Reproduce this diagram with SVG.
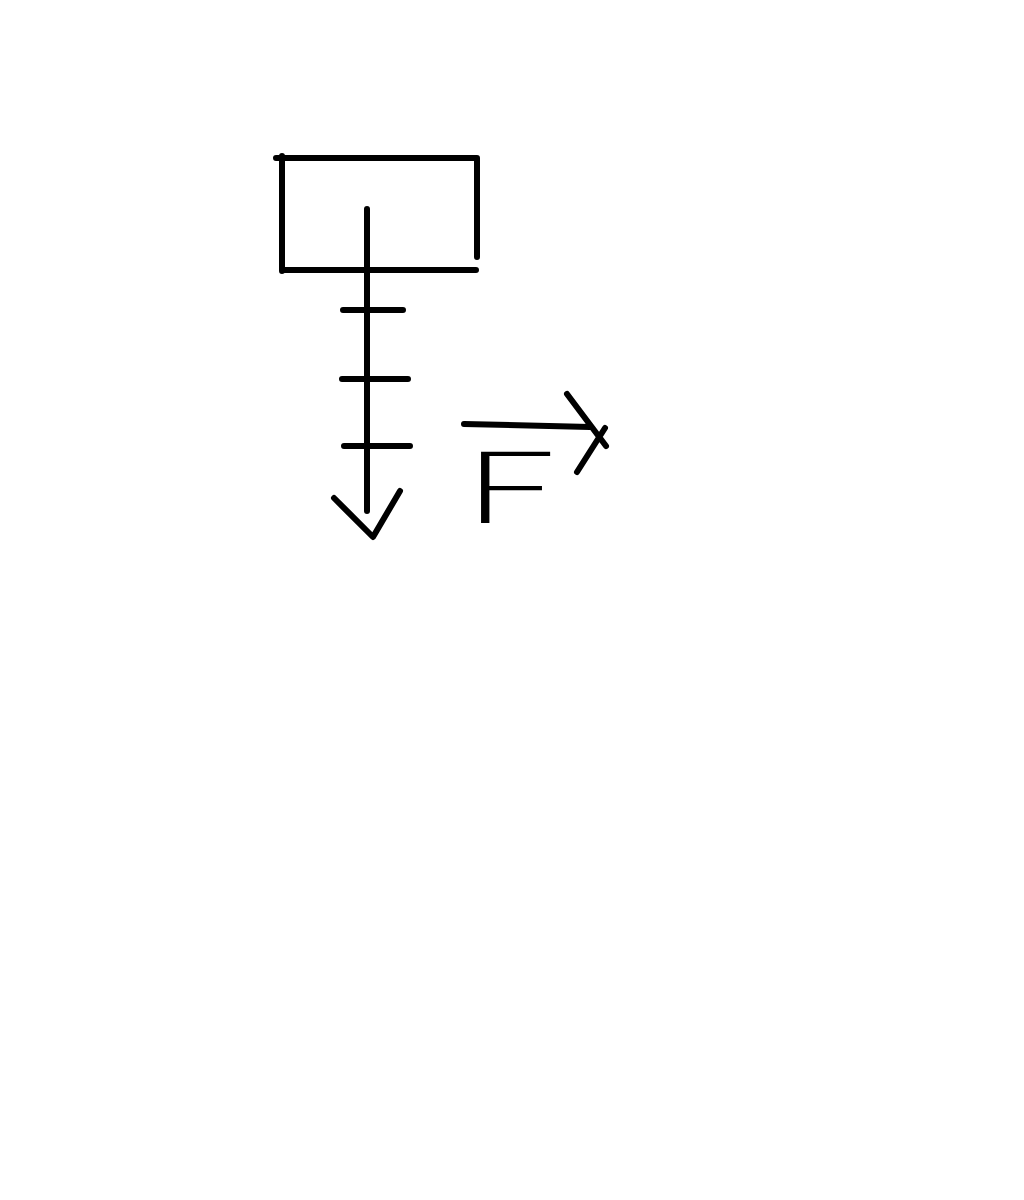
<svg xmlns="http://www.w3.org/2000/svg" width="1024" height="1200" viewBox="0 0 1024 1200">
<style>
.s{fill:none;stroke:#000;stroke-width:6;stroke-linecap:round;stroke-linejoin:round}
.t{font-family:Lato,"Liberation Sans",sans-serif;font-weight:300;font-size:100px;fill:#000}
</style>
<rect width="1024" height="1200" fill="#fff"/>
<g id="box">
<path class="s" d="M276 158H477M282 156V271M477 158V257M282 270H476"/>
</g>
<g id="connectors">
<path class="s" d="M367 209V511"/>
<path class="s" d="M343 310H403M342 379H408M344 446H410"/>
<path class="s" d="M334 498L373 537L400 491"/>
</g>
<g id="force-label">
<text class="t" x="464" y="523" textLength="92" lengthAdjust="spacingAndGlyphs">F</text>
<path class="s" d="M464 424L590 427M567 394L606 446M577 472L605 428"/>
</g>
</svg>
